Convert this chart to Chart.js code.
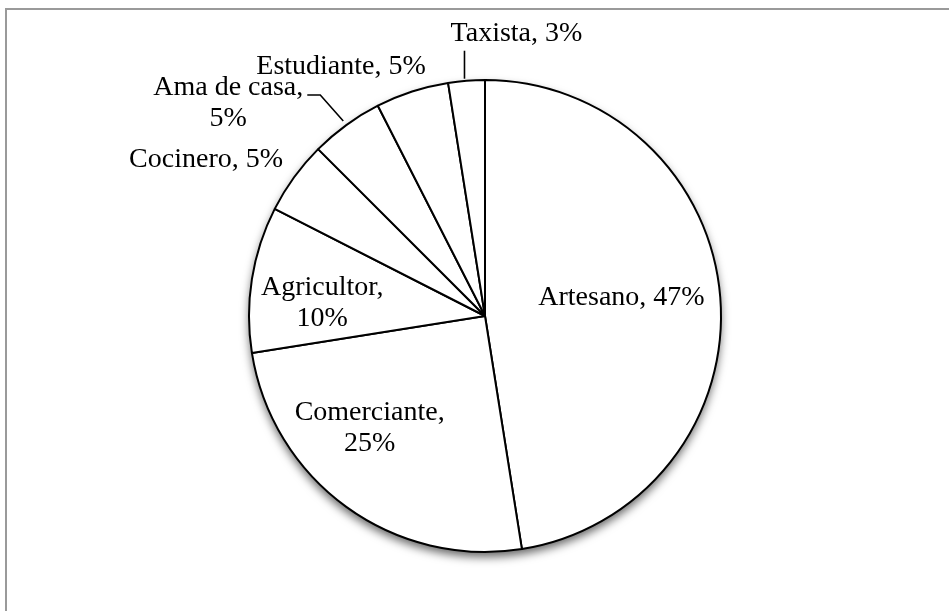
<!DOCTYPE html>
<html>
<head>
<meta charset="utf-8">
<script src="https://cdn.jsdelivr.net/npm/chart.js@4"></script>
<style>
  html, body { margin: 0; padding: 0; background: #fff; }
  #wrap { width: 949px; height: 611px; position: relative; }
</style>
</head>
<body>
<div id="wrap"><canvas id="chartOcupacion" width="949" height="611"></canvas></div>
<script>
// Ocupación de los encuestados
const ocupaciones = ["Artesano", "Comerciante", "Agricultor", "Cocinero", "Ama de casa", "Estudiante", "Taxista"];
const porcentajes = [47.5, 25, 10, 5, 5, 5, 2.5];
const etiquetasPct = ["47%", "25%", "10%", "5%", "5%", "5%", "3%"];

document.addEventListener("DOMContentLoaded", () => {
    const ctx = document.getElementById('chartOcupacion');
    if (!ctx) return;

    const FONT = '28px "Liberation Serif", "Times New Roman", serif';
    const LH = 31;

    // text lines per slice + where they go relative to the slice
    // f = fraction of the radius on the mid angle (1 = outer edge)
    const lineas = [
        [ocupaciones[0] + ", " + etiquetasPct[0]],
        [ocupaciones[1] + ",", etiquetasPct[1]],
        [ocupaciones[2] + ",", etiquetasPct[2]],
        [ocupaciones[3] + ", " + etiquetasPct[3]],
        [ocupaciones[4] + ",", etiquetasPct[4]],
        [ocupaciones[5] + ", " + etiquetasPct[5]],
        [ocupaciones[6] + ", " + etiquetasPct[6]]
    ];
    const ubicacion = [
        { f: 0.58, dx: 0, dy: 0, align: 'center' },
        { f: 0.68, dx: -21, dy: -26, align: 'center' },
        { f: 0.69, dx: -2, dy: 4, align: 'center' },
        { f: 1.0, dx: -11, dy: -10, align: 'right' },
        { f: 1.0, dx: -118, dy: -30, align: 'center', guia: [[-3, -4], [-26, -30], [-39, -30]] },
        { f: 1.0, dx: 50, dy: -40, align: 'center' },
        { f: 1.0, dx: 50, dy: -40, align: 'center', guia: [[-2, -2], [-2, -30]] }
    ];
    ubicacion[5] = { f: 1.0, dx: -71, dy: -18, align: 'center' };

    const marco = {
        id: 'marco',
        beforeDraw(chart) {
            const c = chart.ctx;
            c.save();
            c.strokeStyle = '#9a9a9a';
            c.lineWidth = 2;
            c.beginPath();
            c.moveTo(6, 611);
            c.lineTo(6, 9);
            c.lineTo(949, 9);
            c.stroke();
            c.restore();
        }
    };

    const sombra = {
        id: 'sombra',
        beforeDatasetsDraw(chart) {
            const arc = chart.getDatasetMeta(0).data[0];
            if (!arc) return;
            const c = chart.ctx;
            c.save();
            c.shadowColor = 'rgba(0,0,0,0.6)';
            c.shadowBlur = 10;
            c.shadowOffsetY = 5;
            c.fillStyle = '#fff';
            c.beginPath();
            c.arc(arc.x, arc.y, arc.outerRadius, 0, Math.PI * 2);
            c.fill();
            c.restore();
        }
    };

    const rotulos = {
        id: 'rotulos',
        afterDatasetsDraw(chart) {
            const c = chart.ctx;
            const meta = chart.getDatasetMeta(0);
            c.save();
            c.font = FONT;
            c.fillStyle = '#000';
            c.textBaseline = 'alphabetic';
            meta.data.forEach((arc, i) => {
                const u = ubicacion[i];
                const mid = (arc.startAngle + arc.endAngle) / 2;
                const r = arc.outerRadius * u.f;
                const ax = arc.x + Math.cos(mid) * r;
                const ay = arc.y + Math.sin(mid) * r;
                if (u.guia) {
                    c.strokeStyle = '#000';
                    c.lineWidth = 1.6;
                    c.beginPath();
                    c.moveTo(ax + u.guia[0][0], ay + u.guia[0][1]);
                    u.guia.slice(1).forEach(p => c.lineTo(ax + p[0], ay + p[1]));
                    c.stroke();
                }
                c.textAlign = u.align;
                lineas[i].forEach((t, k) => {
                    c.fillText(t, ax + u.dx, ay + u.dy + k * LH);
                });
            });
            c.restore();
        }
    };

    new Chart(ctx, {
        type: 'pie',
        data: {
            labels: ocupaciones,
            datasets: [{
                data: porcentajes,
                backgroundColor: '#ffffff',
                borderColor: '#000000',
                borderWidth: 2
            }]
        },
        options: {
            responsive: false,
            animation: false,
            layout: {
                padding: { left: 248, right: 227, top: 79, bottom: 58 }
            },
            plugins: {
                legend: { display: false },
                tooltip: { enabled: false }
            }
        },
        plugins: [marco, sombra, rotulos]
    });
});
</script>
</body>
</html>
